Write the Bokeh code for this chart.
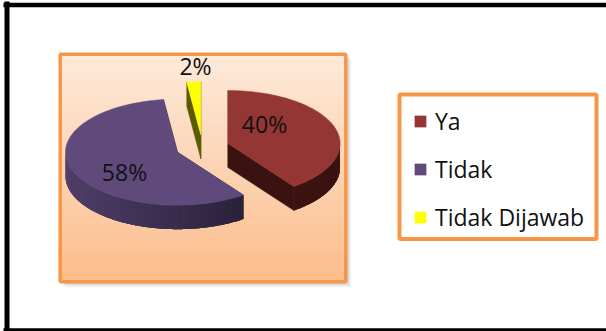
import numpy as np
from bokeh.plotting import figure
from bokeh.models import Range1d, Legend, LegendItem, ColumnDataSource
from bokeh.embed import file_html
from bokeh.resources import INLINE
from bokeh.core.properties import value

# ---- data ----
categories = ["Ya", "Tidak", "Tidak Dijawab"]
values = [40, 58, 2]
pct_labels = ["40%", "58%", "2%"]

# ---- styles ----
top_colors = ["#943634", "#5f4a7b", "#ffff00"]
side_light = ["#451816", "#4f3f69", "#7d7d00"]
side_dark = ["#3a1311", "#221a30", "#5a5a00"]
label_pos = [(264, 123), (124, 171), (195, 65)]
ORANGE = "#f79646"

W, H = 606, 331
p = figure(width=W, height=H, x_range=Range1d(0, W), y_range=Range1d(H, 0),
           output_backend="svg", toolbar_location=None, min_border=0,
           x_axis_type=None, y_axis_type=None)
p.grid.visible = False
p.outline_line_color = None
p.background_fill_color = "white"
p.border_fill_color = "white"

# outer black frame
p.segment(x0=[6.5, 3, 3], y0=[1, 4.5, 329.5], x1=[6.5, 606, 606], y1=[331, 4.5, 329.5],
          line_color="black", line_width=[5, 4.5, 3.5])

# plot-area shadow
for off, a in [(5, 0.06), (4, 0.08), (3, 0.10), (2, 0.12)]:
    p.quad(left=[60 + off], right=[346 + off], top=[54 + off], bottom=[282 + off],
           fill_color="#808080", fill_alpha=a, line_color=None)

def mix(c1, c2, t):
    a = [int(c1[i:i + 2], 16) for i in (1, 3, 5)]
    b = [int(c2[i:i + 2], 16) for i in (1, 3, 5)]
    return "#%02x%02x%02x" % tuple(int(round(a[k] + (b[k] - a[k]) * t)) for k in range(3))

# plot-area gradient
ny = 57
edges = np.linspace(54, 281, ny + 1)
p.quad(left=[60] * ny, right=[345] * ny, top=list(edges[:-1]), bottom=list(edges[1:] + 0.6),
       fill_color=[mix("#fdeadb", "#fcbd8c", (i + 0.5) / ny) for i in range(ny)],
       line_color=None)
p.quad(left=[59.7], right=[345.3], top=[53.7], bottom=[281.3], fill_color=None,
       line_color=ORANGE, line_width=3.5)

# ---- 3D pie ----
CX, CY = 202.0, 147.0
RX, RY, DEPTH, EXPLODE = 112.0, 53.0, 24.0, 0.24
total = float(sum(values))
bounds = np.concatenate([[0.0], np.cumsum(values)]) / total * 2 * np.pi

order = [2, 1, 0]  # back to front
top_renderers = {}
for i in order:
    t0, t1 = bounds[i], bounds[i + 1]
    tm = 0.5 * (t0 + t1)
    cx = CX + EXPLODE * RX * np.sin(tm)
    cy = CY - EXPLODE * RY * np.cos(tm)
    n = max(4, int(np.degrees(t1 - t0) / 2))
    arc = np.linspace(t0, t1, n)
    ax = cx + RX * np.sin(arc)
    ay = cy - RY * np.cos(arc)

    # radial faces
    xs, ys = [], []
    for t in (t0, t1):
        ex, ey = cx + RX * np.sin(t), cy - RY * np.cos(t)
        xs.append([cx, ex, ex, cx])
        ys.append([cy, ey, ey + DEPTH, cy + DEPTH])
    p.patches(xs=xs, ys=ys, fill_color=side_dark[i], line_color=side_dark[i], line_width=0.5)

    # front outer side: overlapping shading bands
    front = np.cos(arc) <= 1e-9
    if front.sum() >= 2:
        fa = arc[front]
        fine = np.linspace(fa[0], fa[-1], max(3, int(np.degrees(fa[-1] - fa[0]) * 2)))
        fx = cx + RX * np.sin(fine)
        fy = cy - RY * np.cos(fine)
        bx, by, bc = [], [], []
        m = len(fx)
        for k in range(m - 1):
            j = min(k + 3, m - 1)
            seg_x = list(fx[k:j + 1])
            seg_y = list(fy[k:j + 1])
            xm = 0.5 * (fx[k] + fx[k + 1])
            tt = min(max((xm - (cx - RX)) / (2 * RX), 0), 1)
            bx.append(seg_x + seg_x[::-1])
            by.append(seg_y + [v + DEPTH for v in seg_y[::-1]])
            bc.append(mix(side_light[i], side_dark[i], tt))
        p.patches(xs=bx, ys=by, fill_color=bc, line_color=None)

    top_renderers[i] = p.patch(x=[cx] + list(ax), y=[cy] + list(ay),
                               fill_color=top_colors[i], line_color=top_colors[i],
                               line_width=0.5)

# percentage labels
src = ColumnDataSource(dict(x=[q[0] for q in label_pos], y=[q[1] for q in label_pos],
                            t=pct_labels))
p.text(x="x", y="y", text="t", source=src, text_font=value("Open Sans"),
       text_font_size="23px", text_color="#111111", text_align="center",
       text_baseline="middle")

# legend box
p.quad(left=[399], right=[596], top=[94], bottom=[238.5], fill_color="white",
       line_color=ORANGE, line_width=4)

items = [LegendItem(label=categories[i], renderers=[top_renderers[i]]) for i in range(3)]
legend = Legend(items=items, location=(413, 98), border_line_color=None,
                background_fill_alpha=0, padding=0, margin=0,
                glyph_width=14, glyph_height=14, label_standoff=8,
                label_height=32, spacing=16,
                label_text_font="Open Sans", label_text_font_size="23px",
                label_text_color="#111111")
p.add_layout(legend)

open("out.html", "w").write(file_html(p, INLINE))
